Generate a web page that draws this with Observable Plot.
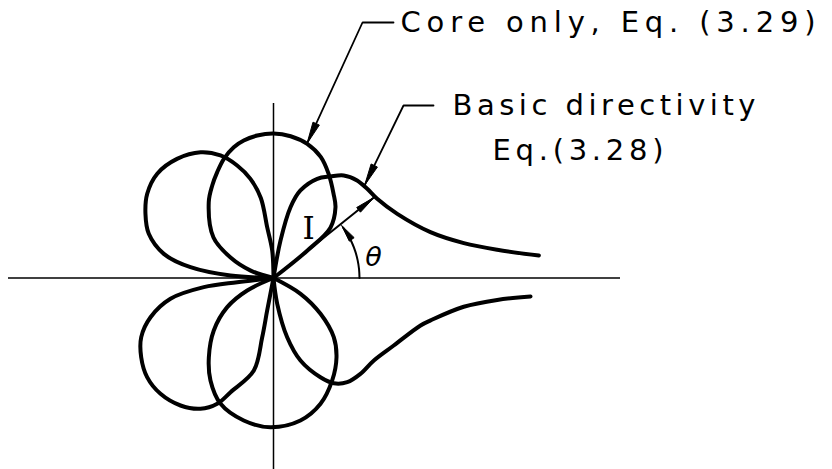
<!DOCTYPE html>
<html><head><meta charset="utf-8">
<script src="https://cdn.jsdelivr.net/npm/d3@7"></script>
<script src="https://cdn.jsdelivr.net/npm/@observablehq/plot@0.6"></script>
<style>body{margin:0;background:#fff}#chart svg{display:block;background:#fff}</style>
</head><body><div id="chart"></div>
<script>
// ---- Data (polar: theta in degrees, r in relative units) ----
// Basic directivity, Eq. (3.28)
const basicUpperRightTheta = [4.85, 7.2, 10.4, 16.3, 27.4, 37.4, 43.6, 49.4, 55.6, 60.7, 66.2, 72.9, 76.5, 79.4, 83];
const basicUpperRightR     = [2.663, 2.255, 1.935, 1.635, 1.394, 1.305, 1.294, 1.285, 1.243, 1.164, 1.084, 0.916, 0.728, 0.38, 0];
const basicUpperLeftTheta  = [90, 92.7, 97.1, 99, 103.1, 107.9, 113.4, 120.1, 129, 138.1, 146.3, 153.4, 160.5, 167.6, 172.6, 176.7, 180];
const basicUpperLeftR      = [0, 0.275, 0.512, 0.81, 1.018, 1.182, 1.335, 1.454, 1.533, 1.562, 1.518, 1.432, 1.323, 1.123, 0.837, 0.431, 0];
const basicLowerLeftTheta  = [-177, -173.4, -172.5, -168.6, -162.3, -155.9, -149.1, -141.9, -134.3, -126.1, -119.2, -114.1, -110.6, -102, -100.8, -101, -98];
const basicLowerLeftR      = [0, 0.365, 0.703, 1.051, 1.291, 1.449, 1.542, 1.606, 1.618, 1.578, 1.498, 1.378, 1.22, 0.946, 0.603, 0.331, 0];
const basicLowerRightTheta = [-83, -81.8, -77, -71.9, -64.7, -60.2, -54.7, -47.8, -39.4, -29.3, -17.9, -15.1, -8.6, -5.6, -4.1];
const basicLowerRightR     = [0, 0.261, 0.608, 0.868, 1.098, 1.213, 1.276, 1.294, 1.299, 1.379, 1.545, 1.627, 1.924, 2.248, 2.577];
// Core only, Eq. (3.29)
const coreUpperTheta = [36, 39, 41.5, 48.7, 54.6, 62.2, 68.7, 75.9, 83.1, 90, 96.5, 102.2, 106.9, 112.6, 118, 123.5, 130.5, 146, 154.5, 162, 167];
const coreUpperR     = [0, 0.437, 0.76, 0.939, 1.036, 1.18, 1.30, 1.383, 1.428, 1.445, 1.434, 1.407, 1.367, 1.291, 1.199, 1.11, 0.997, 0.724, 0.476, 0.24, 0];
const coreLowerTheta = [-27, -30.3, -37.3, -44.5, -51.5, -60.2, -69.5, -79.3, -91.2, -101.8, -112.8, -121.6, -129.2, -138.7, -147.8, -154.6, -160];
const coreLowerR     = [0, 0.313, 0.591, 0.845, 1.012, 1.181, 1.343, 1.45, 1.492, 1.456, 1.365, 1.203, 1.023, 0.795, 0.547, 0.291, 0];
// Annotations
const labelTexts = ["Core only, Eq. (3.29)", "Basic directivity", "Eq.(3.28)"];
const vectorTheta = 38.7, vectorR = 1.29;            // intensity vector I
const coreTip = [76, 1.385], basicTip = [45.5, 1.30]; // leader tips on the curves (theta, r)
const thetaArcAngles = [0, 6, 12, 18, 24, 30, 36], thetaArcR = 0.86;

// ---- Layout (data units: 1 unit = 100 px, origin at the axes crossing) ----
const W = 832, H = 469;
const xDomain = [-2.73, 5.59], yDomain = [-1.915, 2.775];
const axisH = {x1: -2.65, x2: 3.47}, axisV = {y1: 1.745, y2: -1.915};
const leaderCore = {sx: 0.89, sy: 2.555, hx: 1.20};
const leaderBasic = {sx: 1.30, sy: 1.725, hx: 1.60};
const labelLayout = [
  {x: 1.27, y: 2.548, w: 415}, {x: 1.79, y: 1.718, w: 303}, {x: 2.19, y: 1.268, w: 171}
];

const deg = Math.PI / 180;
const pol = (t, r) => [r * Math.cos(t * deg), r * Math.sin(t * deg)];
function curve(thetas, rs, id) {
  return thetas.map((t, i) => { const [x, y] = pol(t, rs[i]); return {x, y, id}; });
}
const basicData = [
  ...curve(basicUpperRightTheta, basicUpperRightR, "bur"),
  ...curve(basicUpperLeftTheta, basicUpperLeftR, "bul"),
  ...curve(basicLowerLeftTheta, basicLowerLeftR, "bll"),
  ...curve(basicLowerRightTheta, basicLowerRightR, "blr")
];
const coreData = [
  ...curve(coreUpperTheta, coreUpperR, "cu"),
  ...curve(coreLowerTheta, coreLowerR, "cl")
];
function head(tx, ty, ang, len, hw, id) {
  const bx = tx - len * Math.cos(ang), by = ty - len * Math.sin(ang);
  const px = -Math.sin(ang) * hw, py = Math.cos(ang) * hw;
  return [[tx, ty], [bx + px, by + py], [bx - px, by - py], [tx, ty]].map(([x, y]) => ({x, y, id}));
}
const [vx, vy] = pol(vectorTheta, vectorR);
const [ctx, cty] = pol(coreTip[0], coreTip[1]);
const [btx, bty] = pol(basicTip[0], basicTip[1]);
const arcData = thetaArcAngles.map(t => { const [x, y] = pol(t, thetaArcR); return {x, y}; });
const arcEnd = thetaArcAngles[thetaArcAngles.length - 1];
const [ax, ay] = pol(arcEnd + 1.5, thetaArcR);
const leaders = [
  {id: "c", pts: [[leaderCore.hx, leaderCore.sy], [leaderCore.sx, leaderCore.sy], [ctx, cty]]},
  {id: "b", pts: [[leaderBasic.hx, leaderBasic.sy], [leaderBasic.sx, leaderBasic.sy], [btx, bty]]}
].flatMap(d => d.pts.map(([x, y]) => ({x, y, id: d.id})));
const heads = [
  ...head(ctx, cty, Math.atan2(cty - leaderCore.sy, ctx - leaderCore.sx), 0.22, 0.035, "hc"),
  ...head(btx, bty, Math.atan2(bty - leaderBasic.sy, btx - leaderBasic.sx), 0.22, 0.035, "hb"),
  ...head(vx, vy, vectorTheta * deg, 0.2, 0.03, "hv"),
  ...head(ax, ay, (arcEnd + 90) * deg, 0.17, 0.03, "ha")
];
const labels = labelTexts.map((text, i) => ({text, ...labelLayout[i]}));

const chart = Plot.plot({
  width: W, height: H, margin: 0,
  x: {domain: xDomain, axis: null}, y: {domain: yDomain, axis: null},
  marks: [
    Plot.ruleY([0], {x1: axisH.x1, x2: axisH.x2, stroke: "black", strokeWidth: 1.5}),
    Plot.ruleX([0], {y1: axisV.y1, y2: axisV.y2, stroke: "black", strokeWidth: 1.5}),
    Plot.line(coreData, {x: "x", y: "y", z: "id", curve: "catmull-rom", stroke: "black", strokeWidth: 4}),
    Plot.line(basicData, {x: "x", y: "y", z: "id", curve: "catmull-rom", stroke: "black", strokeWidth: 4}),
    Plot.link([{x1: 0, y1: 0, x2: vx, y2: vy}], {x1: "x1", y1: "y1", x2: "x2", y2: "y2", stroke: "black", strokeWidth: 2}),
    Plot.line(arcData, {x: "x", y: "y", curve: "catmull-rom", stroke: "black", strokeWidth: 2}),
    Plot.line(leaders, {x: "x", y: "y", z: "id", stroke: "black", strokeWidth: 1.8, strokeLinejoin: "miter"}),
    Plot.line(heads, {x: "x", y: "y", z: "id", stroke: "black", fill: "black", strokeWidth: 1}),
    Plot.text(labels, {x: "x", y: "y", text: "text", textAnchor: "start", fontSize: 29, fontFamily: "DejaVu Sans", fill: "black"}),
    Plot.text(["I"], {x: 0.35, y: 0.49, text: d => d, fontSize: 31, fontFamily: "DejaVu Serif", fill: "black"}),
    Plot.text(["θ"], {x: 1.00, y: 0.205, text: d => d, fontSize: 27, fontStyle: "italic", fontFamily: "DejaVu Sans", fill: "black"})
  ]
});
document.getElementById("chart").appendChild(chart);
d3.select(chart).selectAll("text").each(function () {
  const i = labelTexts.indexOf(this.textContent);
  if (i >= 0) { this.setAttribute("textLength", labelLayout[i].w); this.setAttribute("lengthAdjust", "spacing"); }
});
</script></body></html>
